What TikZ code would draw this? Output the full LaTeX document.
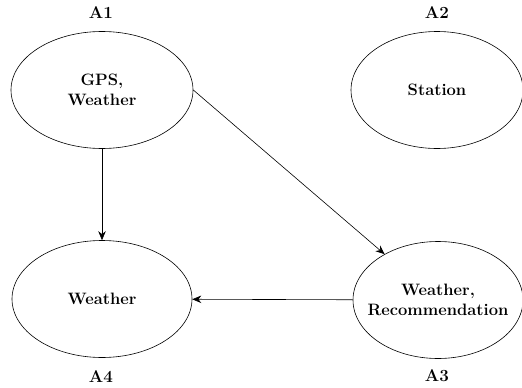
\documentclass[tikz,border=0pt]{standalone}
\usetikzlibrary{shapes.geometric,arrows.meta}
\begin{document}
\begin{tikzpicture}[x=1pt,y=-1pt,
  state/.style={draw,ellipse,line width=0.6pt,minimum width=#1,minimum height=117pt,inner sep=0pt,align=center,font=\fontsize{16.5}{20}\selectfont\bfseries},
  state/.default=180pt,
  lbl/.style={font=\fontsize{17}{20}\selectfont\bfseries},
  conn/.style={line width=0.6pt,-{Stealth[length=9pt,width=7.5pt]}}]
\useasboundingbox (0,0) rectangle (522,388);
\node[state=182pt] (a1) at (102,90) {GPS,\\Weather};
\node[state=172pt] (a2) at (437,90) {Station};
\node[state=170pt,inner xsep=-11pt] (a3) at (438,300) {Weather,\\Recommendation};
\node[state] (a4) at (102,299) {Weather};
\node[lbl] (l1) at (101,13) {A1};
\node[lbl] (l2) at (437,13) {A2};
\node[lbl] (l3) at (437,376) {A3};
\node[lbl] (l4) at (101,377) {A4};
\draw[conn] (a1) -- (a4);
\draw[conn] (a1.east) -- (a3);
\draw[conn] (a3) -- (a4);
\end{tikzpicture}
\end{document}
